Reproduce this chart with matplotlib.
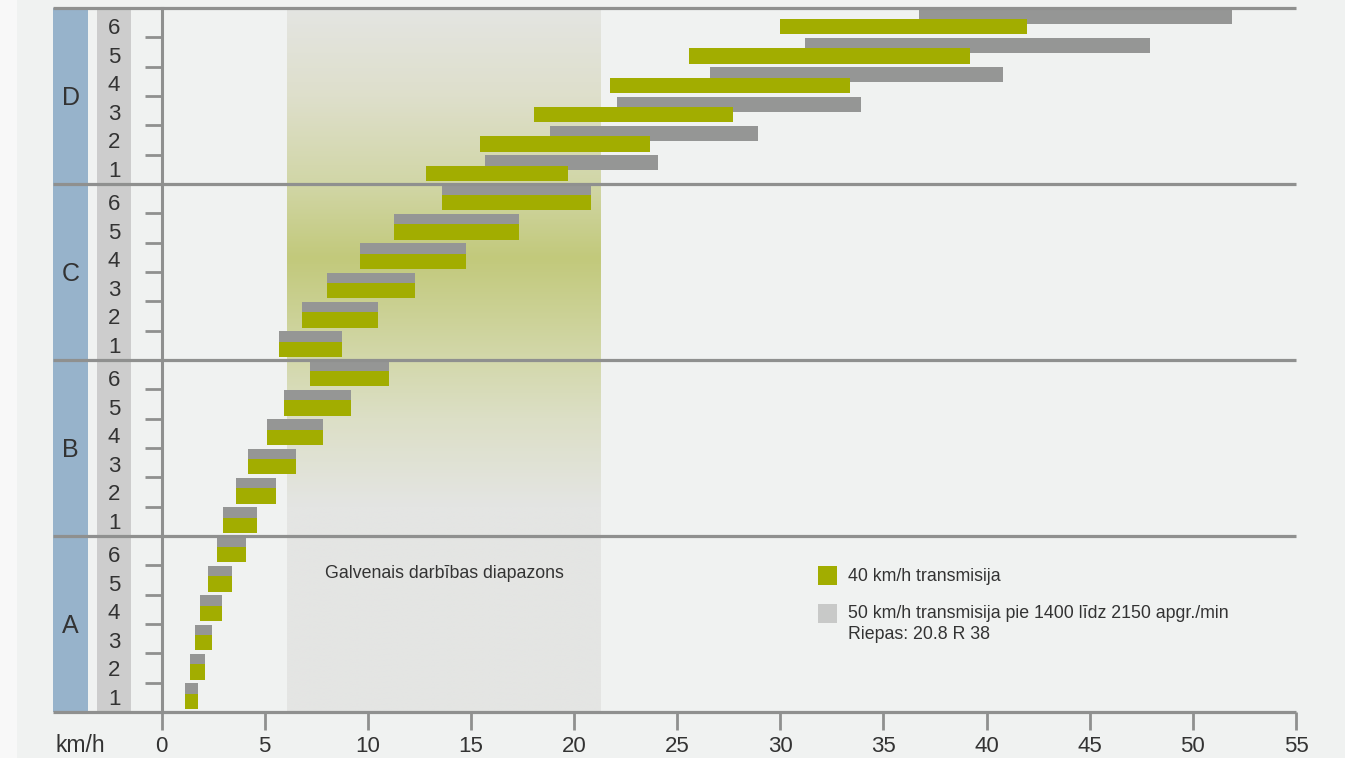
import numpy as np
import matplotlib
matplotlib.use('Agg')
import matplotlib.pyplot as plt
from matplotlib.patches import Rectangle
from matplotlib.colors import LinearSegmentedColormap

plt.rcParams['font.family'] = ['Liberation Sans', 'DejaVu Sans']

# ranges (km/h) per group, gears 1..6
groups = ['A', 'B', 'C', 'D']
gears = ['1', '2', '3', '4', '5', '6']

# 40 km/h transmission (green)
green_start = {
    'A': [1.15, 1.37, 1.61, 1.88, 2.24, 2.67],
    'B': [3.0, 3.6, 4.21, 5.1, 5.95, 7.18],
    'C': [5.68, 6.8, 8.01, 9.6, 11.25, 13.6],
    'D': [12.8, 15.42, 18.04, 21.72, 25.57, 30.0],
}
green_end = {
    'A': [1.75, 2.09, 2.43, 2.92, 3.4, 4.08],
    'B': [4.61, 5.54, 6.5, 7.81, 9.17, 11.01],
    'C': [8.73, 10.48, 12.27, 14.74, 17.31, 20.81],
    'D': [19.69, 23.66, 27.73, 33.36, 39.2, 41.94],
}
# 50 km/h transmission (gray)
gray_start = {
    'A': [1.15, 1.37, 1.61, 1.88, 2.24, 2.67],
    'B': [3.0, 3.6, 4.21, 5.1, 5.95, 7.18],
    'C': [5.68, 6.8, 8.01, 9.6, 11.25, 13.6],
    'D': [15.67, 18.83, 22.06, 26.59, 31.18, 36.7],
}
gray_end = {
    'A': [1.75, 2.09, 2.43, 2.92, 3.4, 4.08],
    'B': [4.61, 5.54, 6.5, 7.81, 9.17, 11.01],
    'C': [8.73, 10.48, 12.27, 14.74, 17.31, 20.81],
    'D': [24.05, 28.9, 33.89, 40.79, 47.9, 51.9],
}

main_range = (6.1, 21.3)
x_ticks = [0, 5, 10, 15, 20, 25, 30, 35, 40, 45, 50, 55]

GREEN = '#a2ad00'
GRAY = '#959695'
LINE = '#8f908f'
BG = '#f0f2f1'
TXT = '#333333'

fig = plt.figure(figsize=(13.45, 7.58), dpi=100, facecolor=BG)
fig.patches.append(Rectangle((0, 0), 17 / 1345, 1, transform=fig.transFigure,
                             facecolor='#f8f8f8', edgecolor='none', zorder=-1))
ax = fig.add_axes([161.5 / 1345, 46 / 758, 1134.5 / 1345, 704 / 758])
ax.set_facecolor(BG)
ax.set_xlim(0, 55)
ax.set_ylim(0, 24)

# main operating range with vertical gradient
stops = [(0.0, '#e4e5e3'), (7 / 24, '#e4e5e3'), (10 / 24, '#dcdfc6'),
         (12 / 24, '#d3d8ab'), (15.5 / 24, '#c2c97b'), (18 / 24, '#d1d6a6'),
         (21 / 24, '#dedfcb'), (1.0, '#e4e5e2')]
cmap = LinearSegmentedColormap.from_list('band', stops)
grad = np.linspace(0, 1, 256).reshape(-1, 1)
ax.imshow(grad, cmap=cmap, extent=(main_range[0], main_range[1], 0, 24),
          origin='lower', aspect='auto', zorder=0)
ax.text(sum(main_range) / 2, 4.72, 'Galvenais darbības diapazons', ha='center',
        va='center', fontsize=12.8, color=TXT)

# bars
for gi, g in enumerate(groups):
    for k in range(6):
        base = gi * 6 + k
        ax.barh(base + 0.47, gray_end[g][k] - gray_start[g][k], left=gray_start[g][k],
                height=0.51, align='edge', color=GRAY, zorder=2)
        ax.barh(base + 0.10, green_end[g][k] - green_start[g][k], left=green_start[g][k],
                height=0.52, align='edge', color=GREEN, zorder=3)

# left label columns
ax.add_patch(Rectangle((-5.26, 0), 1.7, 24, facecolor='#97b3cb', edgecolor='none',
                       clip_on=False, zorder=1))
ax.add_patch(Rectangle((-3.13, 0), 1.65, 24, facecolor='#cdcdcd', edgecolor='none',
                       clip_on=False, zorder=1))
for gi, g in enumerate(groups):
    ax.text(-4.41, gi * 6 + 3 - 0.08, g, ha='center', va='center', fontsize=18,
            color=TXT, clip_on=False)
    for k, n in enumerate(gears):
        ax.text(-2.3, gi * 6 + k + 0.5 - 0.06 - 0.03 * k, n, ha='center', va='center',
                fontsize=16, color=TXT, clip_on=False)

# group separators
for yy in [0, 6, 12, 18, 24]:
    ax.plot([-5.26, 55], [yy, yy], color=LINE, lw=2.3, clip_on=False, zorder=5,
            solid_capstyle='butt')

# axes styling
for s in ['top', 'right', 'bottom']:
    ax.spines[s].set_visible(False)
ax.spines['left'].set_color(LINE)
ax.spines['left'].set_linewidth(2.2)
ax.spines['left'].set_zorder(6)
ytk = [gi * 6 + k for gi in range(4) for k in range(1, 6)]
ax.set_yticks(ytk)
ax.set_yticklabels([])
ax.tick_params(axis='y', length=12, width=2, color=LINE, direction='out')
ax.set_xticks(x_ticks)
ax.set_xticklabels([str(t) for t in x_ticks], fontsize=16, color=TXT)
ax.tick_params(axis='x', length=13, width=2, color=LINE, direction='out', pad=4)
ax.text(-3.95, -1.14, 'km/h', ha='center', va='center', fontsize=16.5, color=TXT,
        clip_on=False)

# legend
ax.add_patch(Rectangle((31.82, 4.33), 0.93, 0.65, facecolor=GREEN, edgecolor='none'))
ax.add_patch(Rectangle((31.82, 3.03), 0.93, 0.65, facecolor='#c8c9c8', edgecolor='none'))
ax.text(33.27, 4.62, '40 km/h transmisija', va='center', fontsize=12.8, color=TXT)
ax.text(33.27, 3.36, '50 km/h transmisija pie 1400 līdz 2150 apgr./min', va='center',
        fontsize=12.8, color=TXT)
ax.text(33.27, 2.64, 'Riepas: 20.8 R 38', va='center', fontsize=12.8, color=TXT)

fig.savefig('out.png', dpi=100, facecolor=fig.get_facecolor())
